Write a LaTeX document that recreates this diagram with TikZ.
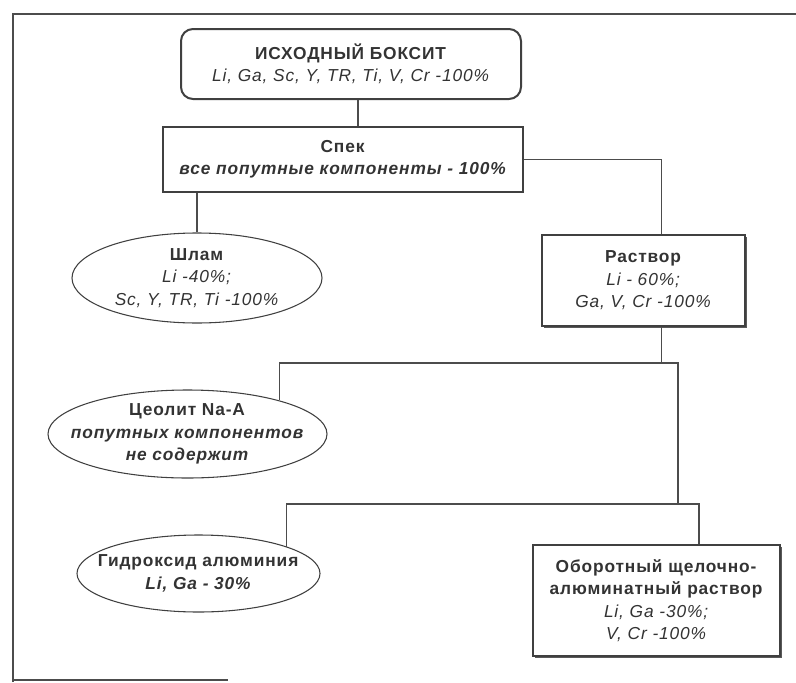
\documentclass[tikz,border=0pt]{standalone}
\usepackage{fontspec}
\setmainfont{Liberation Sans}[LetterSpace=5]
\usepackage{tikz}
\usetikzlibrary{positioning,calc,shapes.geometric,shadows}

\begin{document}
\begin{tikzpicture}[x=0.75pt, y=-0.75pt,
  txt/.style={font=\fontsize{13}{16.8}\selectfont, text=black!80, align=center},
  bx/.style={txt, draw=black!75, line width=0.9pt, rectangle, inner sep=2pt},
  srcbox/.style={bx, rounded corners=9pt, line width=1.5pt},
  shbx/.style={bx, fill=white,
    drop shadow={shadow xshift=1.8pt, shadow yshift=-1.8pt, fill=black!65, opacity=1}},
  ell/.style={txt, draw=black!75, line width=0.8pt, ellipse,
    inner xsep=-20pt, inner ysep=0pt},
  ln/.style={draw=black!70, line width=0.8pt}]
  \useasboundingbox (0,0) rectangle (796,682);
  % Frame
  \draw[ln] (13,682) -- (13,14) -- (796,14);
  \draw[ln] (13,680) -- (228,680);
  % Boxes
  \node[srcbox, minimum width=255pt, minimum height=52.5pt] (boksit) at (351,64)
    {\textbf{ИСХОДНЫЙ БОКСИТ}\\ \textit{Li, Ga, Sc, Y, TR, Ti, V, Cr -100\%}};
  \node[bx, minimum width=270pt, minimum height=48.75pt] (spek) at (343,159.5)
    {\textbf{Спек}\\ \textbf{\textit{все попутные компоненты - 100\%}}};
  \node[shbx, minimum width=152.25pt, minimum height=68.25pt] (rastvor) at (643.5,280.5)
    {\textbf{Раствор}\\ \textit{Li - 60\%;}\\ \textit{Ga, V, Cr -100\%}};
  \node[shbx, minimum width=185.25pt, minimum height=83.25pt] (oborot) at (656.5,600.5)
    {\textbf{Оборотный щелочно-}\\ \textbf{алюминатный раствор}\\ \textit{Li, Ga -30\%;}\\ \textit{V, Cr -100\%}};
  % Ellipses
  \node[ell, minimum width=187.5pt, minimum height=67.5pt] (shlam) at (197,278)
    {\textbf{Шлам}\\ \textit{Li -40\%;}\\ \textit{Sc, Y, TR, Ti -100\%}};
  \node[ell, minimum width=209.25pt, minimum height=66pt] (ceolit) at (187.5,434)
    {\textbf{Цеолит Na-A}\\ \textbf{\textit{попутных компонентов}}\\ \textbf{\textit{не содержит}}};
  \node[ell, minimum width=182.25pt, minimum height=57.75pt] (gidr) at (198.5,573.5)
    {\textbf{Гидроксид алюминия}\\ \textbf{\textit{Li, Ga - 30\%}}};
  % Connectors
  \coordinate (j1) at (678,363);
  \coordinate (j2) at (699,504);
  \draw[ln] ([xshift=5.25pt]boksit.south) -- ([xshift=5.25pt]boksit.south |- spek.north);
  \draw[ln] (spek.east) -| ([xshift=13.5pt]rastvor.north);
  \draw[ln] (spek.south -| shlam.north) -- (shlam.north);
  \draw[ln] ([xshift=13.5pt]rastvor.south) -- ([xshift=13.5pt]rastvor.south |- j1);
  \draw[ln] (ceolit.20) |- (j1) -- (j1 |- j2);
  \draw[ln] (gidr.17) |- (j2) -- (j2 |- oborot.north);
\end{tikzpicture}
\end{document}
